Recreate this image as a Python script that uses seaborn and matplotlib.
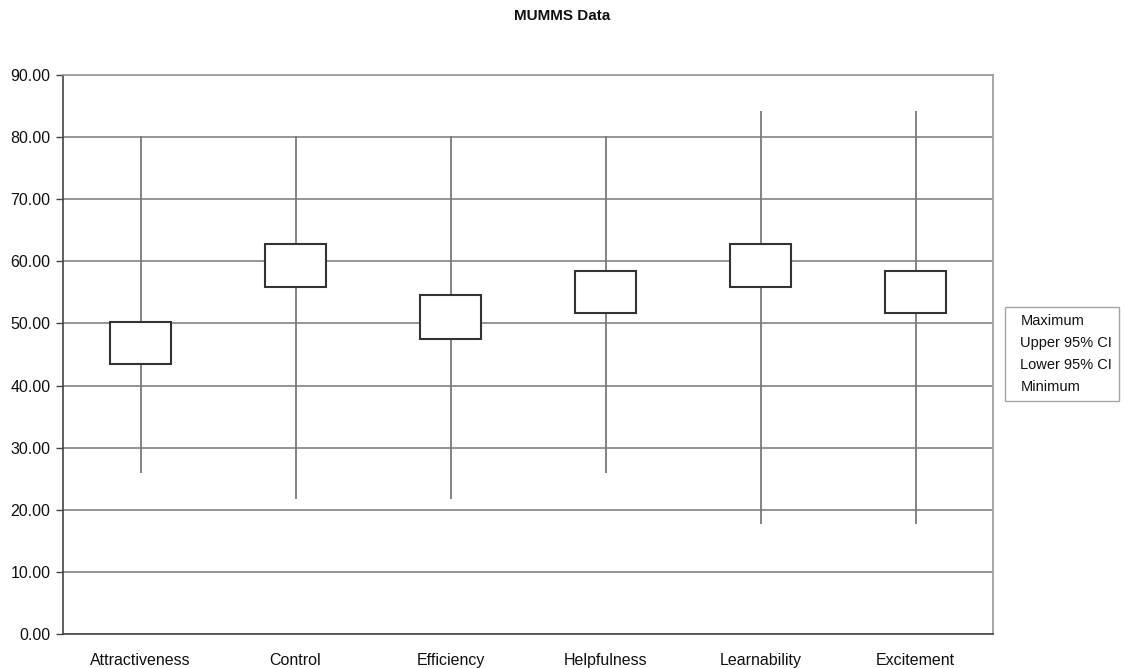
import matplotlib
matplotlib.use("Agg")
import matplotlib.pyplot as plt
from matplotlib.lines import Line2D
import numpy as np
import pandas as pd
import seaborn as sns

# values
categories = ["Attractiveness", "Control", "Efficiency", "Helpfulness", "Learnability", "Excitement"]
maximum = [80.2, 80.2, 80.2, 80.2, 84.2, 84.2]
upper_ci = [50.2, 62.8, 54.5, 58.5, 62.8, 58.5]
lower_ci = [43.5, 55.8, 47.5, 51.7, 55.8, 51.7]
minimum = [25.9, 21.8, 21.8, 25.9, 17.7, 17.7]
legend_labels = ["Maximum", "Upper 95% CI", "Lower 95% CI", "Minimum"]

df = pd.DataFrame({"category": categories, "maximum": maximum, "upper": upper_ci,
                   "lower": lower_ci, "minimum": minimum})
df["span"] = df["upper"] - df["lower"]

sns.set_style("white")
plt.rcParams["font.family"] = ["Liberation Sans", "DejaVu Sans"]
plt.rcParams["font.size"] = 11.5

W, H = 1125, 668
fig = plt.figure(figsize=(W / 100, H / 100), dpi=100)
ax = fig.add_axes([63 / W, 1 - 634 / H, 930 / W, 559 / H])

grid_c = "#8c8c8c"
ax.vlines(df["category"], df["minimum"], df["maximum"], color="#7a7a7a", lw=1.3, zorder=2)
sns.barplot(data=df, x="category", y="span", bottom=df["lower"], width=0.39,
            color="white", saturation=1, edgecolor="#333333", linewidth=1.5,
            ax=ax, zorder=3)

ax.set_ylim(0, 90)
ax.set_xlim(-0.5, 5.5)
ax.set_yticks(np.arange(0, 91, 10))
ax.set_yticklabels([f"{v:.2f}" for v in np.arange(0, 91, 10)])
ax.yaxis.grid(True, color=grid_c, lw=1.3, zorder=0)
ax.set_axisbelow(True)
ax.set_xlabel("")
ax.set_ylabel("")

ax.set_xticks(np.arange(-0.5, 6, 1), minor=True)
ax.tick_params(axis="x", which="major", length=0, pad=14, labelsize=11.5, colors="#111111")
ax.tick_params(axis="x", which="minor", length=5, width=1, direction="out", color="#444444")
ax.tick_params(axis="y", length=5, width=1, direction="out", pad=4, labelsize=11.5,
               color="#444444", labelcolor="#111111", left=True)

for side in ["left", "bottom"]:
    ax.spines[side].set_color("#444444")
    ax.spines[side].set_linewidth(1.2)
for side in ["top", "right"]:
    ax.spines[side].set_color("#a0a0a0")
    ax.spines[side].set_linewidth(1.3)

fig.text(0.5, 1 - 16 / H, "MUMMS Data", ha="center", va="center",
         fontsize=11, fontweight="bold", color="#111111")

handles = [Line2D([], [], linestyle="none") for _ in legend_labels]
leg = fig.legend(handles, legend_labels, loc="center left",
                 bbox_to_anchor=(1005 / W, 1 - 354 / H), bbox_transform=fig.transFigure,
                 handlelength=0.4, handletextpad=0.15, borderaxespad=0, borderpad=0.5,
                 labelspacing=0.55, fancybox=False, frameon=True, fontsize=10.5)
leg.get_frame().set_edgecolor("#909090")
leg.get_frame().set_linewidth(1.0)
for t in leg.get_texts():
    t.set_color("#111111")

fig.savefig("out.png", dpi=100)
